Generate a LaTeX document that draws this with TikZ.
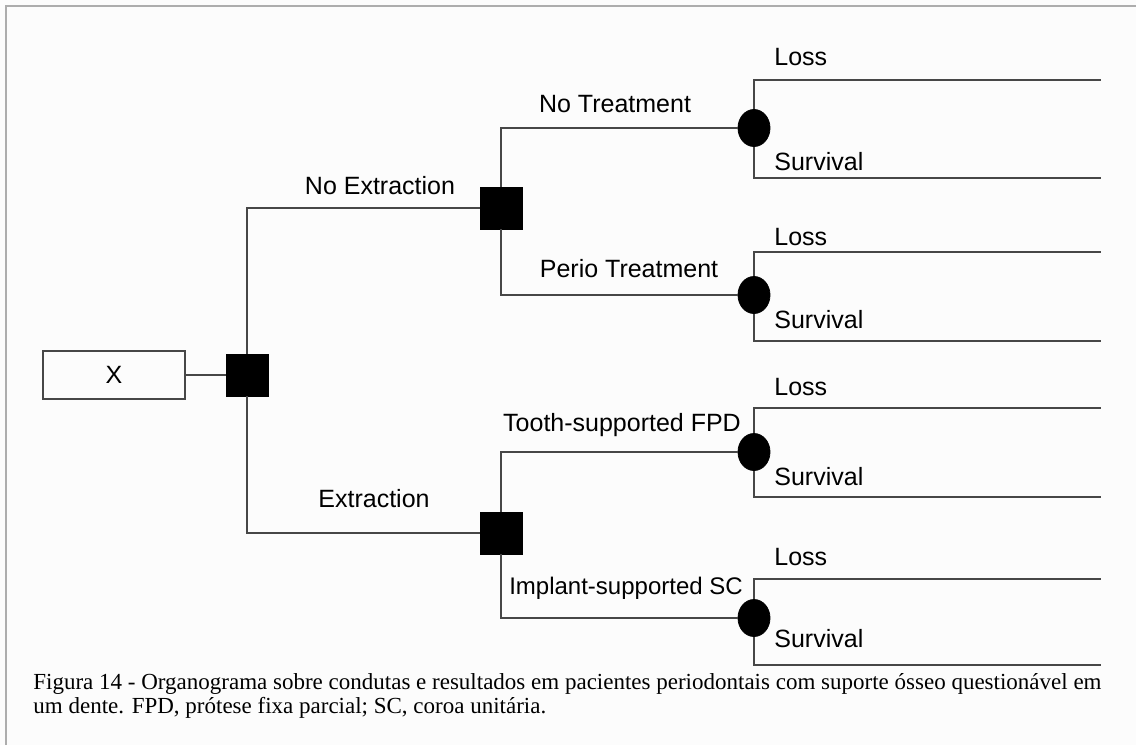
\documentclass[tikz,border=0pt]{standalone}
\usepackage{fontspec}
\setmainfont{Liberation Sans}
\newfontfamily\capfont{Liberation Serif}
\usetikzlibrary{shapes.geometric}
\definecolor{linegray}{gray}{0.28}
\definecolor{framegray}{gray}{0.68}
\definecolor{paper}{gray}{0.988}
\tikzset{
  decision/.style={draw=black,fill=black,minimum width=21pt,minimum height=21pt,inner sep=0pt},
  chance/.style={ellipse,draw=black,fill=black,minimum width=16pt,minimum height=18.5pt,inner sep=0pt},
  branch/.style={draw=linegray,line width=1.1pt},
  lbl/.style={font=\fontsize{12.5}{15}\selectfont,inner sep=0pt},
  caption/.style={font=\capfont\fontsize{11.5}{13}\selectfont,inner sep=0pt,anchor=base west}
}
\begin{document}
\begin{tikzpicture}[x=0.5pt,y=-0.5pt]
\useasboundingbox (0,0) rectangle (1136,745);
\fill[paper] (0,0) rectangle (1136,745);
\draw[framegray,line width=1.3pt] (6,745) -- (6,6) -- (1136,6);
\node[draw=linegray,line width=1.1pt,minimum width=71pt,minimum height=24pt,lbl] (x) at (114,375) {X};
\node[decision] (d0) at (247,375) {};
\node[decision] (d1) at (501,208) {};
\node[decision] (d2) at (501,533) {};
\node[chance] (c1) at (754,128) {};
\node[chance] (c2) at (754,295) {};
\node[chance] (c3) at (754,452) {};
\node[chance] (c4) at (754,618) {};
\coordinate (e1a) at (1101,80);
\coordinate (e1b) at (1101,178);
\coordinate (e2a) at (1101,252);
\coordinate (e2b) at (1101,341);
\coordinate (e3a) at (1101,408);
\coordinate (e3b) at (1101,497);
\coordinate (e4a) at (1101,579);
\coordinate (e4b) at (1101,665);
\draw[branch] (x) -- (d0);
\draw[branch] (d0) |- (d1);
\draw[branch] (d0) |- (d2);
\draw[branch] (d1) |- (c1);
\draw[branch] (d1) |- (c2);
\draw[branch] (d2) |- (c3);
\draw[branch] (d2) |- (c4);
\draw[branch] (c1) |- (e1a);
\draw[branch] (c1) |- (e1b);
\draw[branch] (c2) |- (e2a);
\draw[branch] (c2) |- (e2b);
\draw[branch] (c3) |- (e3a);
\draw[branch] (c3) |- (e3b);
\draw[branch] (c4) |- (e4a);
\draw[branch] (c4) |- (e4b);
\node[lbl] (noext) at (380,186) {No Extraction};
\node[lbl] (ext) at (374,499) {Extraction};
\node[lbl] (notreat) at (615,104) {No Treatment};
\node[lbl] (periotreat) at (629,269) {Perio Treatment};
\node[lbl] (toothfpd) at (622,425) {Tooth-supported FPD};
\node[lbl,font=\fontsize{12}{15}\selectfont] (implantsc) at (626,588) {Implant-supported SC};
\node[lbl,anchor=west] (loss1) at (774,57) {Loss};
\node[lbl,anchor=west] (surv1) at (774,162) {Survival};
\node[lbl,anchor=west] (loss2) at (774,237) {Loss};
\node[lbl,anchor=west] (surv2) at (774,320) {Survival};
\node[lbl,anchor=west] (loss3) at (774,387) {Loss};
\node[lbl,anchor=west] (surv3) at (774,477) {Survival};
\node[lbl,anchor=west] (loss4) at (774,557) {Loss};
\node[lbl,anchor=west] (surv4) at (774,639) {Survival};
\node[caption] (cap1) at (33,689) {Figura 14 - Organograma sobre condutas e resultados em pacientes periodontais com suporte ósseo questionável em};
\node[caption] (cap2) at (33,713) {um dente. FPD, prótese fixa parcial; SC, coroa unitária.};
\end{tikzpicture}
\end{document}
